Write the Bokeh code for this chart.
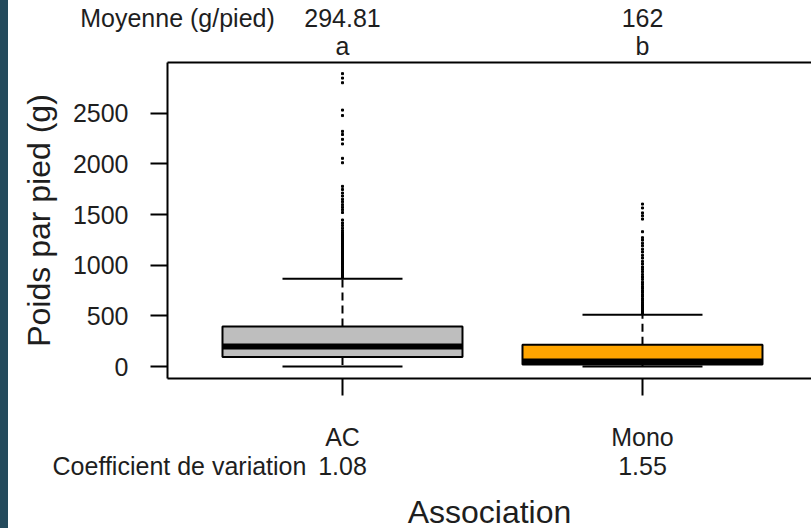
import numpy as np
from bokeh.plotting import figure
from bokeh.models import Range1d, FixedTicker, LinearAxis
from bokeh.embed import file_html
from bokeh.resources import INLINE

# ---------------- data ----------------
groups = ["AC", "Mono"]
positions = [1, 2]
q1 = [95, 20]
median = [197, 49]
q3 = [396, 216]
whisker_low = [0, 0]
whisker_high = [866, 512]
box_colors = ["#BEBEBE", "#FFA500"]
mean_labels = ["294.81", "162"]
letter_labels = ["a", "b"]
cv_labels = ["1.08", "1.55"]
y_ticks = [0, 500, 1000, 1500, 2000, 2500]

ac_outliers = [878, 892, 905, 921, 934, 950, 962, 978, 991, 1006, 1020, 1033,
               1049, 1062, 1078, 1090, 1104, 1121, 1133, 1148, 1162, 1177, 1190,
               1206, 1219, 1233, 1248, 1262, 1277, 1290, 1306, 1322, 1341, 1366,
               1393, 1418, 1447, 1521, 1548, 1573, 1598, 1627, 1652, 1684, 1713,
               1748, 1779, 2012, 2056, 2198, 2243, 2291, 2322, 2478, 2532, 2802,
               2848, 2892]
mono_outliers = [527, 541, 556, 569, 586, 599, 614, 631, 649, 668, 691, 709,
                 732, 748, 771, 789, 812, 833, 861, 884, 908, 937, 961, 983,
                 1012, 1038, 1071, 1098, 1131, 1158, 1192, 1218, 1249, 1272,
                 1331, 1456, 1488, 1517, 1566, 1604]

# ---------------- layout ----------------
FONT = "Liberation Sans"
TXT = "#1e1e1e"
FS = "25px"
FS_TITLE = "32px"
W, H = 803, 532
LEFT, TOP, BOTTOM = 159, 61, 154
PX_PER_X = 300.0
x0 = 0.4167
x1 = x0 + (W - LEFT) / PX_PER_X
y0, y1 = -118, 3002


def x_at(px_from_frame_left):
    return round(x0 + px_from_frame_left / PX_PER_X, 4)


p = figure(width=W, height=H, output_backend="svg", toolbar_location=None,
           x_range=Range1d(x0, x1), y_range=Range1d(y0, y1),
           min_border_left=LEFT, min_border_right=0, min_border_top=TOP,
           min_border_bottom=BOTTOM, background_fill_color="white",
           border_fill_color="white")
p.outline_line_color = None
p.xgrid.visible = False
p.ygrid.visible = False


def style_labels(ax, size=FS):
    ax.major_label_text_font = FONT
    ax.major_label_text_font_size = size
    ax.major_label_text_color = TXT
    ax.minor_tick_line_color = None


# y axis
ya = p.yaxis[0]
ya.ticker = FixedTicker(ticks=y_ticks)
style_labels(ya)
ya.major_tick_in = 0
ya.major_tick_out = 17
ya.major_tick_line_width = 2
ya.axis_line_width = 2
ya.major_label_standoff = 22
ya.axis_label = "Poids par pied (g)"
ya.axis_label_text_font = FONT
ya.axis_label_text_font_size = FS_TITLE
ya.axis_label_text_font_style = "normal"
ya.axis_label_text_color = TXT
ya.axis_label_standoff = 13

# x axis : group names
xa = p.xaxis[0]
xa.ticker = FixedTicker(ticks=positions)
xa.major_label_overrides = {pos: g for pos, g in zip(positions, groups)}
style_labels(xa)
xa.major_tick_in = 0
xa.major_tick_out = 17
xa.major_tick_line_width = 2
xa.axis_line_width = 2
xa.major_label_standoff = 27

# second row below : coefficient of variation + axis title
cv_x = x_at(12)
cv_axis = LinearAxis(ticker=FixedTicker(ticks=[cv_x] + positions),
                     major_label_overrides={cv_x: "Coefficient de variation",
                                            **{pos: c for pos, c in zip(positions, cv_labels)}},
                     axis_line_color=None, major_tick_line_color=None,
                     major_tick_out=0, major_tick_in=0, major_label_standoff=-2,
                     axis_label="Association", axis_label_text_font=FONT,
                     axis_label_text_font_size=FS_TITLE,
                     axis_label_text_font_style="normal",
                     axis_label_text_color=TXT, axis_label_standoff=11)
style_labels(cv_axis)
p.add_layout(cv_axis, "below")

# top frame line with significance letters
letters_axis = LinearAxis(ticker=FixedTicker(ticks=positions),
                          major_label_overrides={pos: l for pos, l in zip(positions, letter_labels)},
                          axis_line_width=2, major_tick_line_color=None,
                          major_tick_out=0, major_tick_in=0, major_label_standoff=3)
style_labels(letters_axis)
p.add_layout(letters_axis, "above")

# means row
mean_x = x_at(10)
means_axis = LinearAxis(ticker=FixedTicker(ticks=[mean_x] + positions),
                        major_label_overrides={mean_x: "Moyenne (g/pied)",
                                               **{pos: m for pos, m in zip(positions, mean_labels)}},
                        axis_line_color=None, major_tick_line_color=None,
                        major_tick_out=0, major_tick_in=0, major_label_standoff=-3)
style_labels(means_axis)
p.add_layout(means_axis, "above")

# ---------------- boxes ----------------
half = 0.4
cap = 0.2
xs = np.array(positions, dtype=float)

p.segment(x0=xs, y0=q3, x1=xs, y1=whisker_high, line_color="black",
          line_width=2, line_dash="8 5")
p.segment(x0=xs, y0=q1, x1=xs, y1=whisker_low, line_color="black",
          line_width=2, line_dash="8 5")
p.segment(x0=xs - cap, y0=whisker_high, x1=xs + cap, y1=whisker_high,
          line_color="black", line_width=2)
p.segment(x0=xs - cap, y0=whisker_low, x1=xs + cap, y1=whisker_low,
          line_color="black", line_width=2)
p.quad(left=xs - half, right=xs + half, bottom=q1, top=q3,
       fill_color=box_colors, line_color="black", line_width=2)
p.segment(x0=xs - half, y0=median, x1=xs + half, y1=median,
          line_color="black", line_width=6)
p.scatter(x=[positions[0]] * len(ac_outliers), y=ac_outliers, marker="square",
          size=2, color="black")
p.scatter(x=[positions[1]] * len(mono_outliers), y=mono_outliers,
          marker="square", size=2, color="black")

html = file_html(p, INLINE)
html = html.replace(
    "</head>",
    "<style>html{background:#244a5c;overflow:hidden}"
    "body{margin:0 0 0 8px !important;background:#ffffff;overflow:hidden}</style></head>",
    1)
open("out.html", "w").write(html)
